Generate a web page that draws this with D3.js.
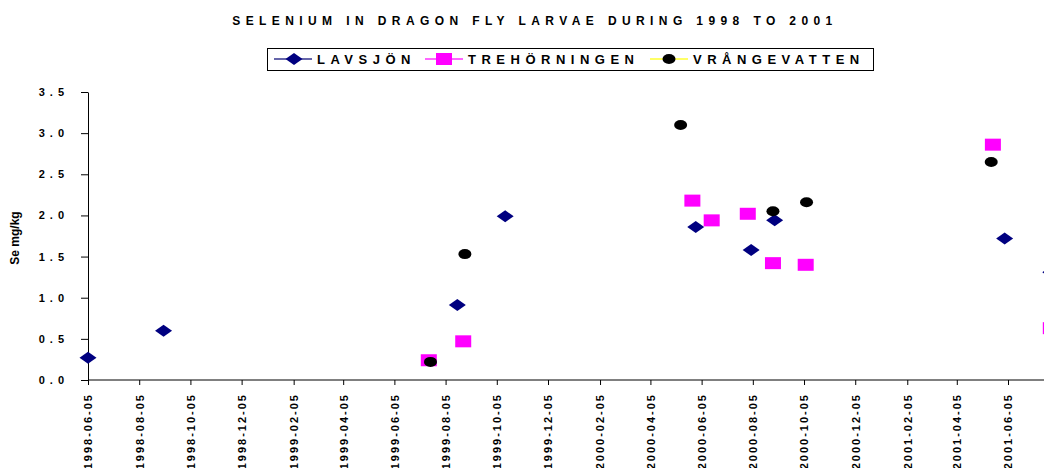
<!DOCTYPE html>
<html>
<head>
<meta charset="utf-8">
<script src="https://cdnjs.cloudflare.com/ajax/libs/d3/7.8.5/d3.min.js"></script>
<style>
  body { margin: 0; background: #fff; }
  text { font-family: "Liberation Sans", Arial, sans-serif; font-weight: bold; fill: #000; }
</style>
</head>
<body>
<div id="chart"></div>
<script>
var width  = 1044;
var height = 468;

// data
var lavsjonDates  = ["1998-06-05","1998-09-03","1999-08-19","1999-10-15","2000-05-29","2000-08-03","2000-08-31","2001-06-01","2001-07-26"];
var lavsjonValues = [0.27, 0.60, 0.91, 1.99, 1.86, 1.58, 1.94, 1.72, 1.31];

var trehDates  = ["1999-07-16","1999-08-26","2000-05-25","2000-06-17","2000-07-30","2000-08-29","2000-10-07","2001-05-18","2001-07-26"];
var trehValues = [0.24, 0.47, 2.18, 1.94, 2.02, 1.42, 1.40, 2.86, 0.63];

var vrangDates  = ["1999-07-18","1999-08-28","2000-05-11","2000-08-29","2000-10-08","2001-05-16"];
var vrangValues = [0.22, 1.53, 3.10, 2.05, 2.16, 2.65];

var xTickLabels = ["1998-06-05","1998-08-05","1998-10-05","1998-12-05","1999-02-05","1999-04-05",
  "1999-06-05","1999-08-05","1999-10-05","1999-12-05","2000-02-05","2000-04-05","2000-06-05",
  "2000-08-05","2000-10-05","2000-12-05","2001-02-05","2001-04-05","2001-06-05"];
var yTicks = [0, 0.5, 1.0, 1.5, 2.0, 2.5, 3.0, 3.5];

var parse = d3.utcParse("%Y-%m-%d");

var svg = d3.select("#chart").append("svg")
  .attr("width", width)
  .attr("height", height);

var x = d3.scaleUtc()
  .domain([parse("1998-06-05"), parse("2001-06-05")])
  .range([88, 1008]);

var y = d3.scaleLinear()
  .domain([0, 3.5])
  .range([380, 92]);

// title
svg.append("text")
  .attr("x", 535)
  .attr("y", 25)
  .attr("text-anchor", "middle")
  .style("font-size", "12px")
  .style("letter-spacing", "5.4px")
  .text("SELENIUM IN DRAGON FLY LARVAE DURING 1998 TO 2001");

// y axis
var yAxis = svg.append("g")
  .attr("transform", "translate(88,0)")
  .call(d3.axisLeft(y).tickValues(yTicks).tickSize(7).tickPadding(12)
    .tickFormat(d3.format(".1f")).tickSizeOuter(0));
yAxis.selectAll("text")
  .style("font-size", "11px")
  .style("letter-spacing", "5px")
  .style("font-family", "'Liberation Sans', Arial, sans-serif")
  .style("font-weight", "bold");

// x axis
var xAxis = svg.append("g")
  .attr("transform", "translate(0,380)")
  .call(d3.axisBottom(x).tickValues(xTickLabels.map(parse)).tickSize(5)
    .tickFormat(d3.utcFormat("%Y-%m-%d")).tickSizeOuter(0));
xAxis.select(".domain").attr("d", "M88,0H1044");
xAxis.selectAll("text")
  .attr("transform", "rotate(-90)")
  .attr("text-anchor", "end")
  .attr("x", -13)
  .attr("y", 0)
  .attr("dy", "0.35em")
  .style("font-size", "11px")
  .style("letter-spacing", "2px")
  .style("font-family", "'Liberation Sans', Arial, sans-serif")
  .style("font-weight", "bold");
svg.selectAll(".domain, .tick line").attr("stroke", "#000");

// y label
svg.append("text")
  .attr("transform", "translate(19,238) rotate(-90)")
  .attr("text-anchor", "middle")
  .style("font-size", "12px")
  .text("Se mg/kg");

// markers
function diamond(cx, cy) {
  return "M" + (cx - 8.5) + "," + cy + "L" + cx + "," + (cy - 6) +
    "L" + (cx + 8.5) + "," + cy + "L" + cx + "," + (cy + 6) + "Z";
}

svg.selectAll(".lav")
  .data(lavsjonDates.map(function(d, i) { return [parse(d), lavsjonValues[i]]; }))
  .enter().append("path")
  .attr("class", "lav")
  .style("fill", "#000080")
  .attr("d", function(d) { return diamond(x(d[0]), y(d[1])); });

svg.selectAll(".treh")
  .data(trehDates.map(function(d, i) { return [parse(d), trehValues[i]]; }))
  .enter().append("rect")
  .attr("class", "treh")
  .style("fill", "#ff00ff")
  .attr("width", 16)
  .attr("height", 12)
  .attr("x", function(d) { return x(d[0]) - 8; })
  .attr("y", function(d) { return y(d[1]) - 6; });

svg.selectAll(".vrang")
  .data(vrangDates.map(function(d, i) { return [parse(d), vrangValues[i]]; }))
  .enter().append("ellipse")
  .attr("class", "vrang")
  .style("fill", "#000")
  .attr("rx", 6.5)
  .attr("ry", 5)
  .attr("cx", function(d) { return x(d[0]); })
  .attr("cy", function(d) { return y(d[1]); });

// legend
var legend = svg.append("g");
legend.append("rect")
  .attr("x", 267.5).attr("y", 48.5)
  .attr("width", 606).attr("height", 22)
  .style("fill", "none").style("stroke", "#000");

var legendItems = [
  { name: "LAVSJÖN", line: "#6666aa", x0: 274 },
  { name: "TREHÖRNINGEN", line: "#ff66ff", x0: 425 },
  { name: "VRÅNGEVATTEN", line: "#ffff66", x0: 650 }
];
legendItems.forEach(function(it, i) {
  var g = legend.append("g").attr("transform", "translate(" + it.x0 + ",59)");
  g.append("line").attr("x1", 0).attr("x2", 38).attr("y1", 0).attr("y2", 0)
    .style("stroke", it.line).style("stroke-width", 2);
  if (i === 0) g.append("path").style("fill", "#000080").attr("d", diamond(20, 0));
  if (i === 1) g.append("rect").style("fill", "#ff00ff").attr("x", 11).attr("y", -6).attr("width", 16).attr("height", 12);
  if (i === 2) g.append("ellipse").style("fill", "#000").attr("cx", 19).attr("cy", 0).attr("rx", 6.5).attr("ry", 5);
  g.append("text").attr("x", 43).attr("y", 5)
    .style("font-size", "13px")
    .style("letter-spacing", "5.5px")
    .text(it.name);
});
</script>
</body>
</html>
